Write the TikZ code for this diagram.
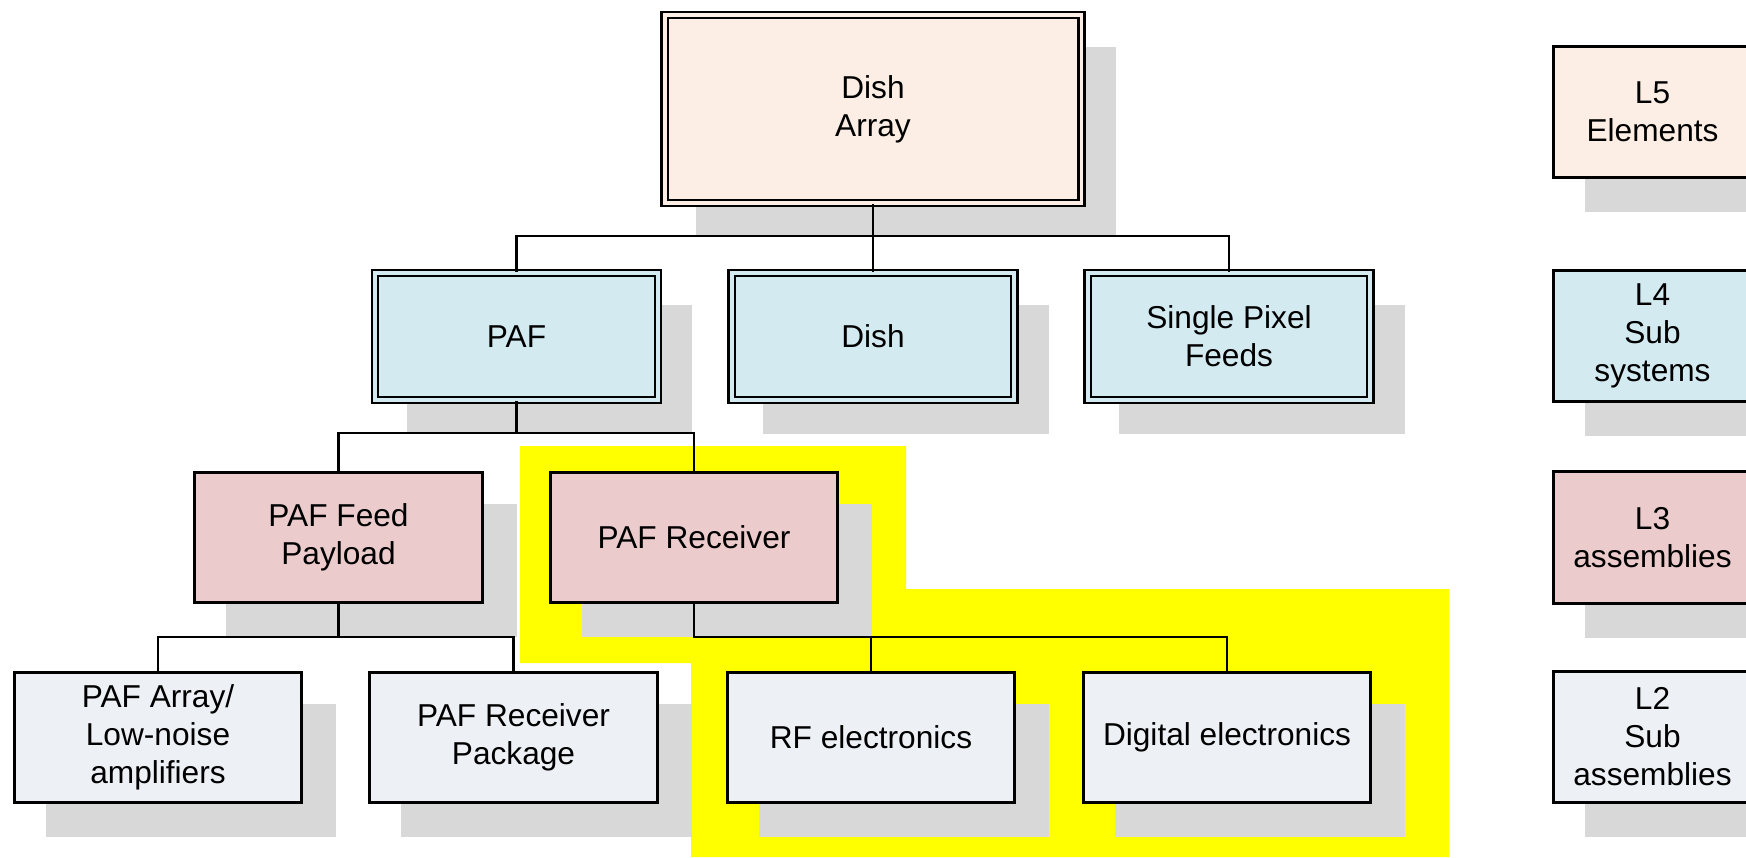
\documentclass[tikz,border=0pt]{standalone}
\usepackage{fontspec}
\setmainfont{Liberation Sans}
\usepackage{xcolor}
\usepackage{tikz}
\usetikzlibrary{calc,backgrounds}
\definecolor{elemColor}{HTML}{FCEEE4}
\definecolor{subsysColor}{HTML}{D2EAF0}
\definecolor{assyColor}{HTML}{EBCBCB}
\definecolor{subassyColor}{HTML}{EDF0F5}
\definecolor{shadowColor}{HTML}{D8D8D8}
\definecolor{markColor}{HTML}{FFFF00}

\begin{document}
\begin{tikzpicture}[x=0.01cm,y=-0.01cm,
    box/.style={draw,line width=0.75pt,align=center,inner sep=0pt,
        font=\fontsize{9}{10.8}\selectfont,
        minimum width=2.874cm,minimum height=1.304cm},
    dbox/.style={box,line width=0.65pt,double distance=1.1pt,
        minimum width=2.826cm,minimum height=1.266cm},
    key/.style={box,minimum width=1.974cm,minimum height=1.314cm},
    link/.style={line width=0.75pt}]
\useasboundingbox (0,0) rectangle (1746,857);

% level 5
\node[dbox,fill=elemColor,double=elemColor,minimum width=4.166cm,minimum height=1.876cm] (array) at (873,109) {Dish\\Array};
% level 4
\node[dbox,fill=subsysColor,double=subsysColor] (paf) at (516.5,336.5) {PAF};
\node[dbox,fill=subsysColor,double=subsysColor] (dish) at (873,336.5) {Dish};
\node[dbox,fill=subsysColor,double=subsysColor] (spf) at (1229,336.5) {Single Pixel\\Feeds};
% level 3
\node[box,fill=assyColor] (feed) at (338.5,537.5) {PAF Feed\\Payload};
\node[box,fill=assyColor] (rcv) at (694,537.5) {PAF Receiver};
% level 2
\node[box,fill=subassyColor] (lna) at (158,737.5) {PAF Array/\\Low-noise\\amplifiers};
\node[box,fill=subassyColor] (pkg) at (513.5,737.5) {PAF Receiver\\Package};
\node[box,fill=subassyColor] (rf) at (871,737.5) {RF electronics};
\node[box,fill=subassyColor] (dig) at (1227,737.5) {Digital electronics};

% key on the right
\node[key,fill=elemColor] (k5) at (1652.5,112) {L5\\Elements};
\node[key,fill=subsysColor] (k4) at (1652.5,336) {L4\\Sub\\systems};
\node[key,fill=assyColor] (k3) at (1652.5,537.5) {L3\\assemblies};
\node[key,fill=subassyColor] (k2) at (1652.5,737) {L2\\Sub\\assemblies};

% tree links
\foreach \c in {paf,dish,spf} \draw[link] (array.south) -- ++(0,32) -| (\c.north);
\foreach \c in {feed,rcv} \draw[link] (paf.south) -- ++(0,32) -| (\c.north);
\foreach \c in {lna,pkg} \draw[link] (feed.south) -- ++(0,33) -| (\c.north);
\foreach \c in {rf,dig} \draw[link] (rcv.south) -- ++(0,33) -| (\c.north);

\begin{scope}[on background layer]
% highlighted receiver branch
\fill[markColor] (520,446) -- (906,446) -- (906,589) -- (1449,589) -- (1449,857)
    -- (691,857) -- (691,663) -- (520,663) -- cycle;
% drop shadows
\foreach \n in {array,paf,dish,spf,feed,rcv,lna,pkg,rf,dig,k5,k4,k3,k2}
    \fill[shadowColor] ([shift={(33,33)}]\n.north west) rectangle ([shift={(33,33)}]\n.south east);
\end{scope}
\end{tikzpicture}
\end{document}
